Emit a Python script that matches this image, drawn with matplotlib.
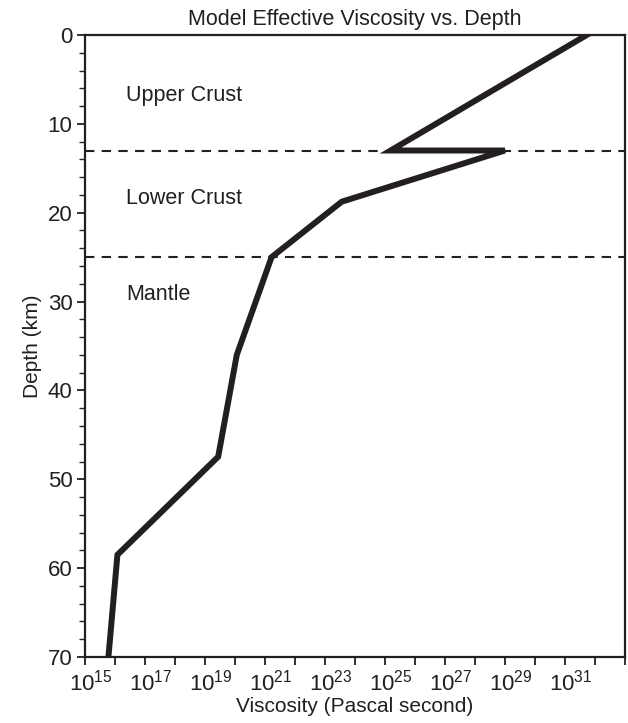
import numpy as np
import matplotlib.pyplot as plt
import matplotlib.transforms as mtransforms
from matplotlib.ticker import LogLocator, FuncFormatter, MultipleLocator

plt.rcParams['font.family'] = ['Liberation Sans', 'DejaVu Sans']
plt.rcParams['mathtext.fontset'] = 'custom'
plt.rcParams['mathtext.rm'] = 'Liberation Sans'
plt.rcParams['mathtext.it'] = 'Liberation Sans'

# viscosity profile (log10 Pa s vs depth km)
log_visc = [31.73, 25.19, 29.0, 23.56, 21.22, 20.06, 19.44, 16.08, 15.78]
depth = [0, 13, 13, 18.76, 25, 36.0, 47.46, 58.5, 70]

boundaries = [13, 25]
layer_names = ['Upper Crust', 'Lower Crust', 'Mantle']
layer_depths = [6.8, 18.4, 29.2]

ink = '#231f20'

fig = plt.figure(figsize=(6.28, 7.23), dpi=100)
ax = fig.add_axes([0.1354, 0.0913, 0.8596, 0.8603])

ax.plot(10.0 ** np.array(log_visc), depth, color=ink, linewidth=4.3,
        solid_joinstyle='miter', zorder=3)
for b in boundaries:
    ax.axhline(b, color=ink, linewidth=1.5, dashes=(4.5, 3.5), zorder=2)
for name, d in zip(layer_names, layer_depths):
    ax.text(10.0 ** 16.38, d, name, fontsize=15.5, color=ink, va='center', ha='left')


def exp_label(v, pos):
    e = int(round(np.log10(v)))
    if e % 2 == 1 and e < 33:
        return r'$10^{%d}$' % e
    return ''


ax.set_xscale('log')
ax.set_xlim(1e15, 1e33)
ax.set_ylim(70, 0)

ax.xaxis.set_major_locator(LogLocator(base=10, subs=(1.0,), numticks=30))
ax.xaxis.set_minor_locator(LogLocator(base=10, subs=(), numticks=30))
ax.xaxis.set_major_formatter(FuncFormatter(exp_label))
ax.yaxis.set_major_locator(MultipleLocator(10))
ax.yaxis.set_minor_locator(MultipleLocator(2))

ax.tick_params(axis='both', which='major', direction='out', length=6, width=1.3,
               labelsize=16, colors=ink, pad=3)
ax.tick_params(axis='y', which='minor', direction='out', length=4, width=1.0, colors=ink)
for s in ax.spines.values():
    s.set_linewidth(1.6)
    s.set_color(ink)

ax.set_title('Model Effective Viscosity vs. Depth', fontsize=15.5, color=ink, pad=7)
ax.set_xlabel('Viscosity (Pascal second)', fontsize=15, color=ink, labelpad=1)
ax.set_ylabel('Depth (km)', fontsize=15, color=ink, labelpad=4)

# centre the "10" on the tick, exponent hanging to the right
fig.canvas.draw()
shift = mtransforms.ScaledTranslation(6 / 100, 0, fig.dpi_scale_trans)
for lab in ax.get_xticklabels():
    lab.set_transform(lab.get_transform() + shift)

fig.savefig('out.png', dpi=100)
